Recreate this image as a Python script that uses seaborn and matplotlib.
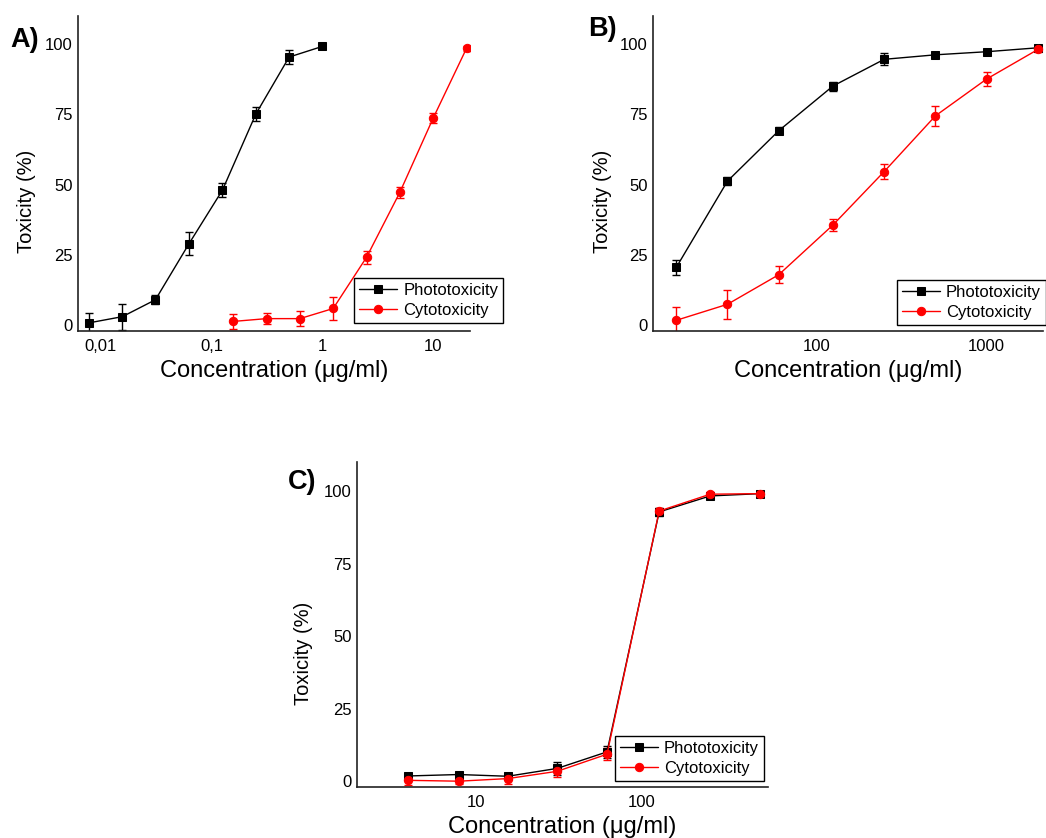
import numpy as np
import pandas as pd
import seaborn as sns
import matplotlib
matplotlib.use("Agg")
import matplotlib.pyplot as plt
from matplotlib.ticker import FixedLocator, LogLocator, NullFormatter, MultipleLocator

# ---------------- data ----------------
# Panel A
a_photo_x = [0.0078, 0.0156, 0.031, 0.0625, 0.125, 0.25, 0.5, 1.0]
a_photo_y = [0.9, 3.1, 9.1, 29.1, 48.1, 75.1, 95.4, 99.2]
a_photo_err = [3.6, 4.6, 1.6, 4.0, 2.5, 2.5, 2.5, 1.0]
a_cyto_x = [0.156, 0.3125, 0.625, 1.25, 2.5, 5.0, 10.0, 20.0]
a_cyto_y = [1.4, 2.4, 2.4, 6.0, 24.2, 47.3, 73.7, 98.5]
a_cyto_err = [2.7, 2.0, 2.7, 4.1, 2.3, 2.0, 1.9, 0.8]
a_ticks = [0.01, 0.1, 1, 10]
a_ticklabels = ["0,01", "0,1", "1", "10"]

# Panel B
b_photo_x = [15, 30, 60, 125, 250, 500, 1000, 2000]
b_photo_y = [20.6, 51.3, 69.2, 85.1, 94.6, 96.2, 97.3, 98.7]
b_photo_err = [2.7, 1.5, 1.3, 1.6, 2.1, 0.6, 0.6, 0.8]
b_cyto_x = [15, 30, 60, 125, 250, 500, 1000, 2000]
b_cyto_y = [1.8, 7.5, 18.0, 35.7, 54.7, 74.5, 87.6, 98.1]
b_cyto_err = [4.9, 5.2, 3.1, 2.2, 2.7, 3.6, 2.4, 1.0]
b_ticks = [100, 1000]
b_ticklabels = ["100", "1000"]

# Panel C
c_photo_x = [3.9, 7.9, 15.6, 31, 62, 128, 260, 520]
c_photo_y = [1.8, 2.3, 1.7, 4.4, 10.1, 92.8, 98.3, 99.1]
c_photo_err = [0.7, 0.7, 0.7, 2.2, 2.0, 1.5, 0.7, 0.7]
c_cyto_x = [3.9, 7.9, 15.6, 31, 62, 128, 260, 520]
c_cyto_y = [0.3, 0.0, 0.9, 3.4, 9.3, 93.1, 98.9, 99.1]
c_cyto_err = [1.5, 1.0, 2.0, 1.8, 2.0, 1.0, 0.7, 0.7]
c_ticks = [10, 100]
c_ticklabels = ["10", "100"]

y_ticks = [0, 25, 50, 75, 100]
series_names = ["Phototoxicity", "Cytotoxicity"]
xlabel = "Concentration (\u03bcg/ml)"
ylabel = "Toxicity (%)"

# ---------------- style ----------------
sns.set_style("white")
plt.rcParams["font.family"] = ["Liberation Sans", "DejaVu Sans"]
plt.rcParams["text.color"] = "black"
plt.rcParams["axes.labelcolor"] = "black"
plt.rcParams["xtick.color"] = "black"
plt.rcParams["ytick.color"] = "black"

W, H = 1046, 838
fig = plt.figure(figsize=(W / 100, H / 100), dpi=100)


def px_axes(left, right, top, bottom):
    return fig.add_axes([left / W, 1 - bottom / H, (right - left) / W, (bottom - top) / H])


def panel(ax, px, py, pe, cx, cy, ce, xlim, ticks, ticklabels, letter, letter_pos, leg_anchor):
    dfp = pd.DataFrame({"x": px, "y": py})
    dfc = pd.DataFrame({"x": cx, "y": cy})
    ax.errorbar(px, py, yerr=pe, fmt="none", ecolor="black", elinewidth=1, capsize=3, capthick=1, zorder=2)
    ax.errorbar(cx, cy, yerr=ce, fmt="none", ecolor="red", elinewidth=1, capsize=3, capthick=1, zorder=2)
    sns.lineplot(data=dfp, x="x", y="y", ax=ax, color="black", marker="s", markersize=5.5,
                 markeredgecolor="black", linewidth=1, label=series_names[0], zorder=3)
    sns.lineplot(data=dfc, x="x", y="y", ax=ax, color="red", marker="o", markersize=6,
                 markeredgecolor="red", linewidth=1, label=series_names[1], zorder=4)
    ax.set_xscale("log")
    ax.set_xlim(*xlim)
    ax.set_ylim(-2, 110)
    ax.xaxis.set_major_locator(FixedLocator(ticks))
    ax.set_xticklabels(ticklabels)
    ax.xaxis.set_minor_locator(LogLocator(base=10, subs=np.arange(2, 10)))
    ax.xaxis.set_minor_formatter(NullFormatter())
    ax.set_yticks(y_ticks)
    ax.set_yticklabels([str(v) for v in y_ticks])
    ax.yaxis.set_minor_locator(MultipleLocator(12.5))
    for s in ["top", "right"]:
        ax.spines[s].set_visible(False)
    for s in ["left", "bottom"]:
        ax.spines[s].set_color("#222222")
        ax.spines[s].set_linewidth(1.2)
    ax.tick_params(axis="both", which="both", direction="in", length=2.5, width=0.8,
                   labelsize=12, colors="#333333")
    ax.tick_params(axis="x", which="major", labelcolor="black", pad=6)
    ax.tick_params(axis="y", which="major", labelcolor="black", pad=4)
    ax.set_xlabel(xlabel, fontsize=17, labelpad=4)
    ax.set_ylabel(ylabel, fontsize=14.5)
    ax.yaxis.set_label_coords(-0.106, 0.41)
    ax.grid(False)
    leg = ax.legend(loc="lower left", bbox_to_anchor=leg_anchor, borderaxespad=0,
                    fontsize=12, frameon=True, fancybox=False, edgecolor="black",
                    handlelength=2.3, handletextpad=0.35, labelspacing=0.3,
                    borderpad=0.3, framealpha=1)
    leg.get_frame().set_linewidth(1.0)
    fig.text(letter_pos[0] / W, 1 - letter_pos[1] / H, letter, fontsize=19.5, fontweight="bold",
             ha="left", va="center")


axA = px_axes(78, 470, 16, 331)
panel(axA, a_photo_x, a_photo_y, a_photo_err, a_cyto_x, a_cyto_y, a_cyto_err,
      (0.0062, 21.5), a_ticks, a_ticklabels, "A)", (10, 40), (0.704, 0.025))

axB = px_axes(653, 1043, 16, 331)
panel(axB, b_photo_x, b_photo_y, b_photo_err, b_cyto_x, b_cyto_y, b_cyto_err,
      (10.95, 2143), b_ticks, b_ticklabels, "B)", (588, 29), (0.625, 0.019))

axC = px_axes(357, 768, 462, 787)
panel(axC, c_photo_x, c_photo_y, c_photo_err, c_cyto_x, c_cyto_y, c_cyto_err,
      (1.92, 581), c_ticks, c_ticklabels, "C)", (288, 482), (0.627, 0.0175))

fig.savefig("out.png", dpi=100)
